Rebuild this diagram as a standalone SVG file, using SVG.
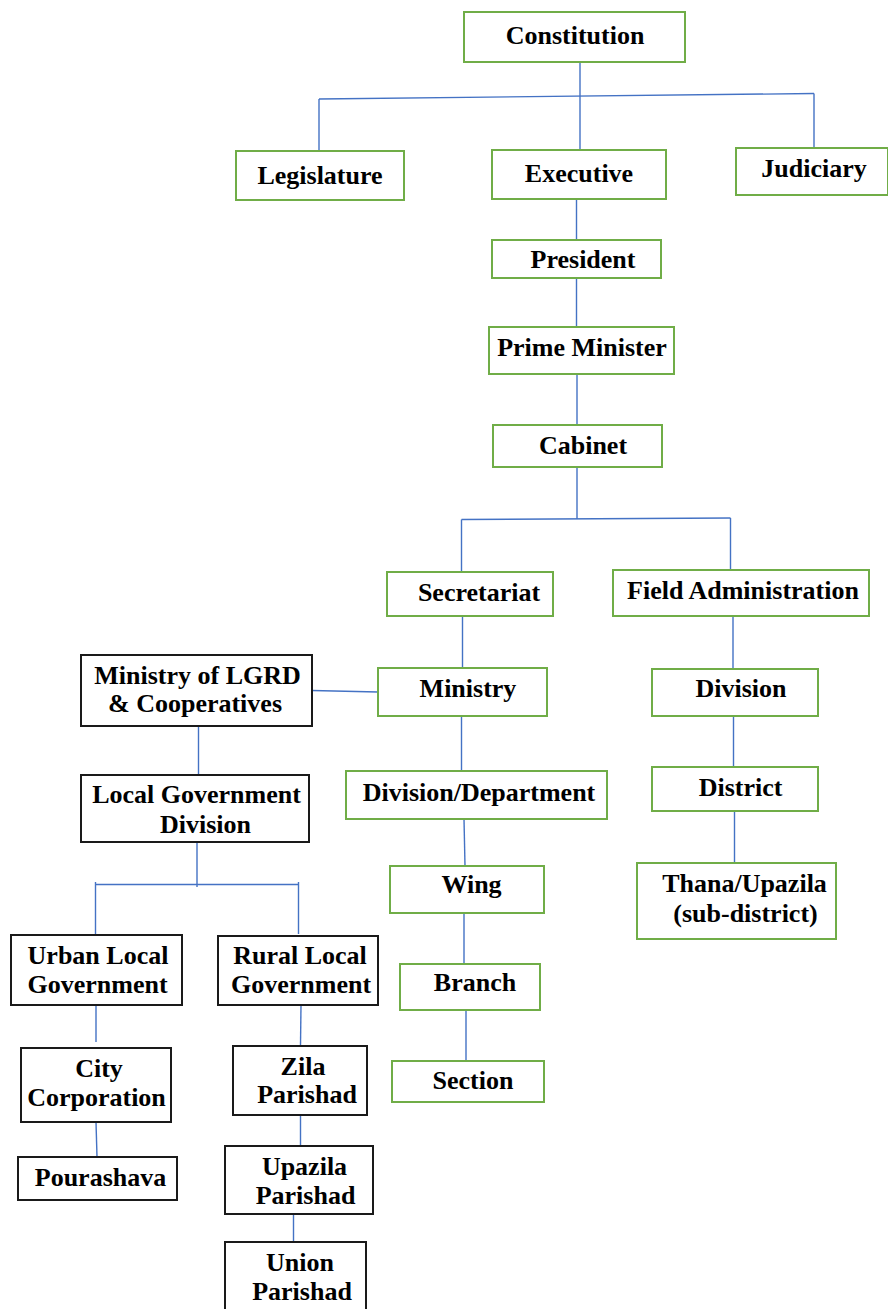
<svg xmlns="http://www.w3.org/2000/svg" width="888" height="1309" viewBox="0 0 888 1309">
<style>
.g{fill:#fff;stroke:#70AD47;stroke-width:2}
.k{fill:#fff;stroke:#1a1a1a;stroke-width:2}
.t{font-family:"Liberation Serif","Times New Roman",serif;font-weight:bold;font-size:26px;text-anchor:middle;fill:#000}
.c line{stroke:#4472C4;stroke-width:1.4;fill:none}
</style>
<rect width="888" height="1309" fill="#fff"/>
<g class="c" id="connectors">
<line x1="580" y1="62" x2="580" y2="150"/>
<line x1="319" y1="99" x2="814" y2="93.5"/>
<line x1="319" y1="99" x2="319" y2="151"/>
<line x1="814" y1="93.5" x2="814" y2="147"/>
<line x1="576.5" y1="199" x2="576.5" y2="240"/>
<line x1="576.5" y1="278" x2="576.5" y2="327"/>
<line x1="577" y1="374" x2="577" y2="425"/>
<line x1="577" y1="467" x2="577" y2="519"/>
<line x1="461.5" y1="519.5" x2="730.5" y2="518"/>
<line x1="461.5" y1="519.5" x2="461.5" y2="572"/>
<line x1="730.5" y1="518" x2="730.5" y2="570"/>
<line x1="462.5" y1="616" x2="462.5" y2="668"/>
<line x1="733" y1="616" x2="733" y2="669"/>
<line x1="461.5" y1="716" x2="461.5" y2="771"/>
<line x1="312" y1="690.5" x2="378" y2="692"/>
<line x1="464" y1="819" x2="465" y2="866"/>
<line x1="464" y1="913" x2="464" y2="964"/>
<line x1="466" y1="1010" x2="466" y2="1061"/>
<line x1="733.5" y1="716" x2="733.5" y2="767"/>
<line x1="734.5" y1="811" x2="734.5" y2="863"/>
<line x1="198.5" y1="726" x2="198.5" y2="775"/>
<line x1="197" y1="842" x2="197" y2="887"/>
<line x1="95.5" y1="884.5" x2="298.5" y2="884.5"/>
<line x1="95.5" y1="882" x2="95.5" y2="934"/>
<line x1="298.5" y1="882" x2="298.5" y2="934"/>
<line x1="96" y1="1005" x2="96" y2="1042"/>
<line x1="96" y1="1122" x2="97" y2="1157"/>
<line x1="301" y1="1005" x2="300.5" y2="1046"/>
<line x1="300.5" y1="1115" x2="300.5" y2="1146"/>
<line x1="293.5" y1="1214" x2="293.5" y2="1242"/>
</g>
<g id="constitution"><rect class="g" x="464" y="12" width="221" height="50"/><text class="t" x="575" y="44">Constitution</text></g>
<g id="legislature"><rect class="g" x="236" y="151" width="168" height="49"/><text class="t" x="320" y="184">Legislature</text></g>
<g id="executive"><rect class="g" x="492" y="150" width="174" height="49"/><text class="t" x="579" y="182">Executive</text></g>
<g id="judiciary"><rect class="g" x="736" y="148" width="152" height="47"/><text class="t" x="814" y="177">Judiciary</text></g>
<g id="president"><rect class="g" x="492" y="240" width="169" height="38"/><text class="t" x="583" y="268">President</text></g>
<g id="prime-minister"><rect class="g" x="489" y="327" width="185" height="47"/><text class="t" x="582" y="356">Prime Minister</text></g>
<g id="cabinet"><rect class="g" x="493" y="425" width="169" height="42"/><text class="t" x="583" y="454">Cabinet</text></g>
<g id="secretariat"><rect class="g" x="387" y="572" width="166" height="44"/><text class="t" x="479" y="601">Secretariat</text></g>
<g id="field-administration"><rect class="g" x="613" y="570" width="256" height="46"/><text class="t" x="743" y="599">Field Administration</text></g>
<g id="ministry"><rect class="g" x="378" y="668" width="169" height="48"/><text class="t" x="468" y="697">Ministry</text></g>
<g id="ministry-lgrd"><rect class="k" x="81" y="655" width="231" height="71"/><text class="t" x="197.5" y="684">Ministry of LGRD</text><text class="t" x="195" y="712">&amp; Cooperatives</text></g>
<g id="local-government-division"><rect class="k" x="81" y="775" width="228" height="67"/><text class="t" x="196.5" y="803">Local Government</text><text class="t" x="205.5" y="832.5">Division</text></g>
<g id="division-department"><rect class="g" x="346" y="771" width="261" height="48"/><text class="t" x="479" y="800.5">Division/Department</text></g>
<g id="wing"><rect class="g" x="390" y="866" width="154" height="47"/><text class="t" x="471.5" y="893">Wing</text></g>
<g id="branch"><rect class="g" x="400" y="964" width="140" height="46"/><text class="t" x="475" y="991">Branch</text></g>
<g id="section"><rect class="g" x="392" y="1061" width="152" height="41"/><text class="t" x="473" y="1089">Section</text></g>
<g id="division"><rect class="g" x="652" y="669" width="166" height="47"/><text class="t" x="741" y="697">Division</text></g>
<g id="district"><rect class="g" x="652" y="767" width="166" height="44"/><text class="t" x="740.5" y="795.5">District</text></g>
<g id="thana-upazila"><rect class="g" x="637" y="863" width="199" height="76"/><text class="t" x="744.5" y="891.5">Thana/Upazila</text><text class="t" x="745.5" y="921.5">(sub-district)</text></g>
<g id="urban-local-government"><rect class="k" x="11" y="935" width="171" height="70"/><text class="t" x="98" y="964">Urban Local</text><text class="t" x="97.5" y="992.5">Government</text></g>
<g id="rural-local-government"><rect class="k" x="218" y="936" width="160" height="69"/><text class="t" x="300" y="964">Rural Local</text><text class="t" x="301" y="993">Government</text></g>
<g id="city-corporation"><rect class="k" x="21" y="1048" width="150" height="74"/><text class="t" x="99" y="1076.5">City</text><text class="t" x="96.5" y="1105.5">Corporation</text></g>
<g id="pourashava"><rect class="k" x="18" y="1157" width="159" height="43"/><text class="t" x="100.5" y="1186">Pourashava</text></g>
<g id="zila-parishad"><rect class="k" x="233" y="1046" width="134" height="69"/><text class="t" x="303" y="1074.5">Zila</text><text class="t" x="307" y="1102.5">Parishad</text></g>
<g id="upazila-parishad"><rect class="k" x="225" y="1146" width="148" height="68"/><text class="t" x="304.5" y="1175">Upazila</text><text class="t" x="305.5" y="1203.5">Parishad</text></g>
<g id="union-parishad"><rect class="k" x="225" y="1242" width="141" height="75"/><text class="t" x="300" y="1270.5">Union</text><text class="t" x="302" y="1299.5">Parishad</text></g>
</svg>
